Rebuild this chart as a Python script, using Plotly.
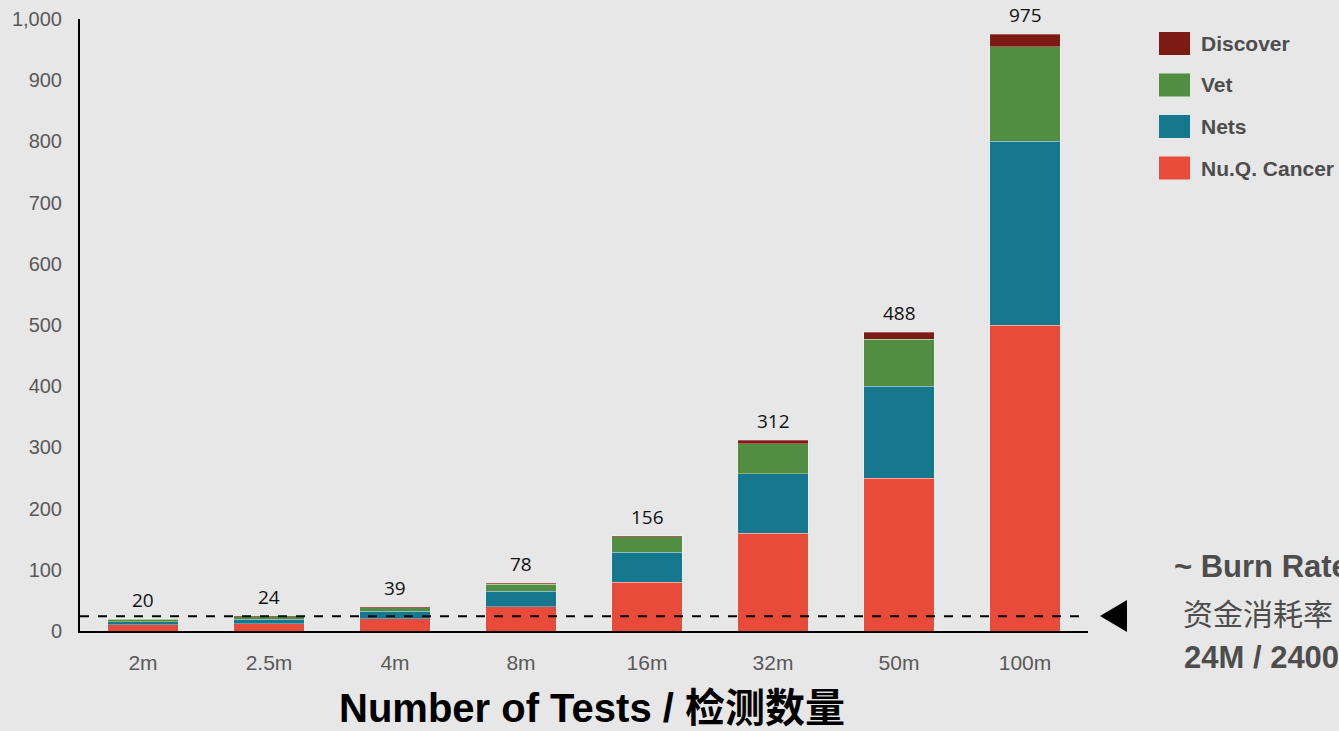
import plotly.graph_objects as go

categories = ["2m", "2.5m", "4m", "8m", "16m", "32m", "50m", "100m"]
nuq_cancer = [10, 12, 20, 40, 80, 160, 250, 500]
nets = [5, 7, 12, 25, 49, 97, 150, 300]
vet = [4, 4, 6, 11, 25, 49, 77, 155]
discover = [1, 1, 1, 2, 2, 6, 11, 20]
totals = [20, 24, 39, 78, 156, 312, 488, 975]
burn_rate = 24

series = [
    ("Nu.Q. Cancer", nuq_cancer, "#e84b3a"),
    ("Nets", nets, "#16788f"),
    ("Vet", vet, "#528e41"),
    ("Discover", discover, "#7d1a14"),
]

# plot area in pixels
L, R, T, B = 80, 1088, 19, 631
W, H = R - L, B - T


def px(x):
    return (x - L) / W


def py(y):
    return (B - y) / H


fig = go.Figure()
for name, vals, color in series:
    fig.add_trace(go.Bar(
        x=categories, y=vals, name=name,
        marker=dict(color=color, line=dict(color="rgba(255,255,255,0.3)", width=1)),
        showlegend=False,
    ))

annotations = []
for c, t in zip(categories, totals):
    annotations.append(dict(
        x=c, y=t, xref="x", yref="y", text=str(t), showarrow=False,
        yanchor="bottom", yshift=4,
        font=dict(family="Open Sans, Noto Sans, sans-serif", size=19, color="#111111"),
    ))

shapes = []
# burn rate dashed line
shapes.append(dict(type="line", xref="paper", yref="y", x0=0, x1=1,
                   y0=burn_rate, y1=burn_rate,
                   line=dict(color="black", width=2, dash="dash")))
# triangle pointer
shapes.append(dict(type="path", xref="paper", yref="paper",
                   path=f"M {px(1100)} {py(616)} L {px(1127)} {py(600)} L {px(1127)} {py(632)} Z",
                   fillcolor="black", line=dict(width=0)))

# custom legend
legend_items = [("Discover", "#7d1a14", 43.5), ("Vet", "#528e41", 85),
                ("Nets", "#16788f", 126.5), ("Nu.Q. Cancer", "#e84b3a", 168)]
for name, color, cy in legend_items:
    shapes.append(dict(type="rect", xref="paper", yref="paper",
                       x0=px(1159), x1=px(1190), y0=py(cy - 11.5), y1=py(cy + 11.5),
                       fillcolor=color, line=dict(width=0)))
    annotations.append(dict(x=px(1199), y=py(cy), xref="paper", yref="paper",
                            text=f"<b>{name}</b>", showarrow=False,
                            xanchor="left", yanchor="middle",
                            font=dict(family="Liberation Sans, Arial, sans-serif", size=21, color="#4d4d4d")))

grey = "#4d4d4d"
annotations.append(dict(x=px(1172), y=py(566), xref="paper", yref="paper",
                        text="<b>~ Burn Rate</b>", showarrow=False, xanchor="left", yanchor="middle",
                        font=dict(family="Liberation Sans, Arial, sans-serif", size=31, color=grey)))
annotations.append(dict(x=px(1181), y=py(612), xref="paper", yref="paper",
                        text="资金消耗率", showarrow=False, xanchor="left", yanchor="middle",
                        font=dict(family="Noto Sans CJK SC, sans-serif", size=30, color=grey)))
annotations.append(dict(x=px(1182), y=py(657), xref="paper", yref="paper",
                        text="<b>24M / 2400万</b>", showarrow=False, xanchor="left", yanchor="middle",
                        font=dict(family="Liberation Sans, Arial, sans-serif", size=31, color=grey)))
# x axis title
annotations.append(dict(x=px(592), y=py(708), xref="paper", yref="paper",
                        text="<b>Number of Tests / 检测数量</b>", showarrow=False,
                        xanchor="center", yanchor="middle",
                        font=dict(family="Liberation Sans, Noto Sans CJK SC, sans-serif", size=40, color="black")))

fig.update_layout(
    barmode="stack",
    bargap=0.44,
    width=1339, height=731,
    margin=dict(l=L, r=1339 - R, t=T, b=731 - B, pad=0, autoexpand=False),
    paper_bgcolor="#e7e7e7",
    plot_bgcolor="#e7e7e7",
    shapes=shapes,
    annotations=annotations,
    showlegend=False,
    font=dict(family="Liberation Sans, Arial, sans-serif"),
)
fig.update_xaxes(
    type="category", range=[-0.5, 7.5], automargin=False,
    showline=True, linecolor="black", linewidth=2,
    showgrid=False, ticks="outside", ticklen=12, tickcolor="rgba(0,0,0,0)",
    tickfont=dict(size=21, color="#595959"),
)
fig.update_yaxes(
    range=[0, 1000], tickvals=[0, 100, 200, 300, 400, 500, 600, 700, 800, 900, 1000],
    tickformat=",d", automargin=False,
    showline=True, linecolor="black", linewidth=2,
    showgrid=False, zeroline=False, ticks="outside", ticklen=12, tickcolor="rgba(0,0,0,0)",
    tickfont=dict(size=20, color="#595959"),
)

fig.write_html(
    "out.html",
    config={"displayModeBar": False},
    post_script="document.body.style.margin='0';document.body.style.background='#e7e7e7';document.body.style.overflow='hidden';",
)
